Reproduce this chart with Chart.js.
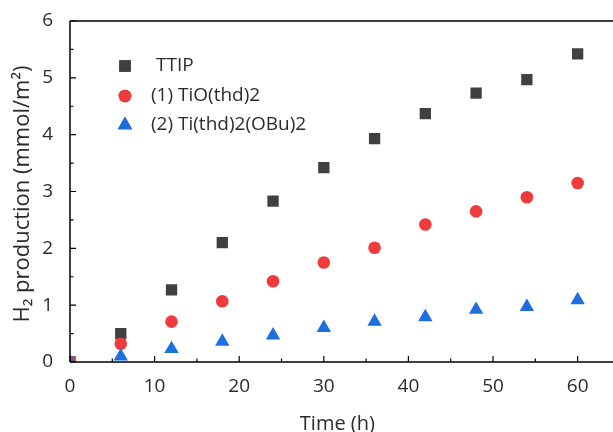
<!DOCTYPE html>
<html>
<head>
<meta charset="utf-8">
<script src="https://cdn.jsdelivr.net/npm/chart.js@4"></script>
<style>
  html, body { margin: 0; padding: 0; background: #fff; overflow: hidden; }
  #wrap { width: 613px; height: 432px; }
</style>
</head>
<body>
<div id="wrap"><canvas id="h2Chart" width="613" height="432"></canvas></div>
<script>
// データ
const times = [0, 6, 12, 18, 24, 30, 36, 42, 48, 54, 60];
const ttip = [0, 0.50, 1.27, 2.10, 2.83, 3.42, 3.93, 4.37, 4.73, 4.97, 5.42];
const tiOthd = [0, 0.32, 0.71, 1.07, 1.42, 1.75, 2.01, 2.42, 2.65, 2.90, 3.15];
const tiThdOBu = [0, 0.10, 0.23, 0.36, 0.47, 0.60, 0.71, 0.79, 0.92, 0.97, 1.09];
const seriesNames = ["TTIP", "(1) TiO(thd)2", "(2) Ti(thd)2(OBu)2"];
const xTicks = [0, 10, 20, 30, 40, 50, 60];
const yTicks = [0, 1, 2, 3, 4, 5, 6];

const FONT = "'Open Sans', 'Noto Sans', sans-serif";
const TEXT = "#2b2b2b";

function toPoints(vals) {
    return times.map((t, i) => ({ x: t, y: vals[i] }));
}

// 枠線・目盛り・凡例・Y軸タイトルを描く
const decorPlugin = {
    id: "decor",
    afterDraw(c) {
        const ctx = c.ctx;
        const a = c.chartArea;
        const xs = c.scales.x, ys = c.scales.y;
        ctx.save();
        ctx.strokeStyle = "#000";
        ctx.lineWidth = 1.5;
        ctx.beginPath();
        ctx.moveTo(a.left, a.top); ctx.lineTo(613, a.top);
        ctx.moveTo(a.left, a.top); ctx.lineTo(a.left, a.bottom);
        ctx.moveTo(a.left, a.bottom); ctx.lineTo(613, a.bottom);
        ctx.stroke();

        ctx.lineWidth = 1.2;
        ctx.beginPath();
        for (let v = 0; v <= 60; v += 5) {
            const px = xs.getPixelForValue(v);
            const len = v % 10 === 0 ? 6 : 3.5;
            ctx.moveTo(px, a.bottom); ctx.lineTo(px, a.bottom - len);
        }
        for (let v = 0; v <= 6; v += 0.5) {
            const py = ys.getPixelForValue(v);
            const len = v % 1 === 0 ? 6 : 3.5;
            ctx.moveTo(a.left, py); ctx.lineTo(a.left + len, py);
        }
        ctx.stroke();

        // 凡例
        const rows = [
            { y: 66, tx: 156 },
            { y: 96, tx: 151 },
            { y: 125, tx: 151 }
        ];
        ctx.font = "19px " + FONT;
        ctx.textBaseline = "middle";
        ctx.textAlign = "left";
        c.data.datasets.forEach((ds, i) => {
            Chart.helpers.drawPoint(ctx, {
                pointStyle: ds.pointStyle,
                radius: ds.pointRadius,
                borderWidth: 0
            }, 125, rows[i].y);
            ctx.fillStyle = ds.backgroundColor;
            ctx.fill();
            ctx.fillStyle = TEXT;
            ctx.fillText(seriesNames[i], rows[i].tx, rows[i].y);
        });

        // Y軸タイトル
        ctx.translate(23, 194);
        ctx.rotate(-Math.PI / 2);
        ctx.textAlign = "center";
        ctx.font = "22px " + FONT;
        ctx.fillStyle = TEXT;
        ctx.fillText("H\u2082 production (mmol/m\u00B2)", 0, 0);
        ctx.restore();
    }
};

const ctx = document.getElementById("h2Chart").getContext("2d");
const chart = new Chart(ctx, {
    type: "scatter",
    data: {
        datasets: [{
            label: seriesNames[0],
            data: toPoints(ttip),
            pointStyle: "rect",
            pointRadius: 8,
            backgroundColor: "#404040",
            borderWidth: 0,
            order: 3
        }, {
            label: seriesNames[1],
            data: toPoints(tiOthd),
            pointStyle: "circle",
            pointRadius: 6.3,
            backgroundColor: "#ef3b3b",
            borderWidth: 0,
            order: 2
        }, {
            label: seriesNames[2],
            data: toPoints(tiThdOBu),
            pointStyle: "triangle",
            pointRadius: 8.3,
            backgroundColor: "#1c6fe0",
            borderWidth: 0,
            order: 1
        }]
    },
    options: {
        responsive: false,
        animation: false,
        layout: { padding: { top: 21, right: 0, left: 0, bottom: 0 } },
        plugins: {
            legend: { display: false },
            tooltip: { enabled: false }
        },
        scales: {
            x: {
                type: "linear",
                min: 0,
                max: 63.2,
                afterBuildTicks: s => { s.ticks = xTicks.map(v => ({ value: v })); },
                afterFit: s => { s.height = 70; },
                grid: { display: false },
                border: { display: false },
                ticks: { font: { size: 19, family: FONT }, color: TEXT, padding: 5 },
                title: {
                    display: true,
                    text: "Time (h)",
                    font: { size: 20, family: FONT },
                    color: TEXT,
                    padding: { top: 4, bottom: -4 }
                }
            },
            y: {
                type: "linear",
                min: 0,
                max: 6,
                afterBuildTicks: s => { s.ticks = yTicks.map(v => ({ value: v })); },
                afterFit: s => { s.width = 70; },
                grid: { display: false },
                border: { display: false },
                ticks: { font: { size: 19, family: FONT }, color: TEXT, padding: 9 }
            }
        }
    },
    plugins: [decorPlugin]
});
</script>
</body>
</html>
